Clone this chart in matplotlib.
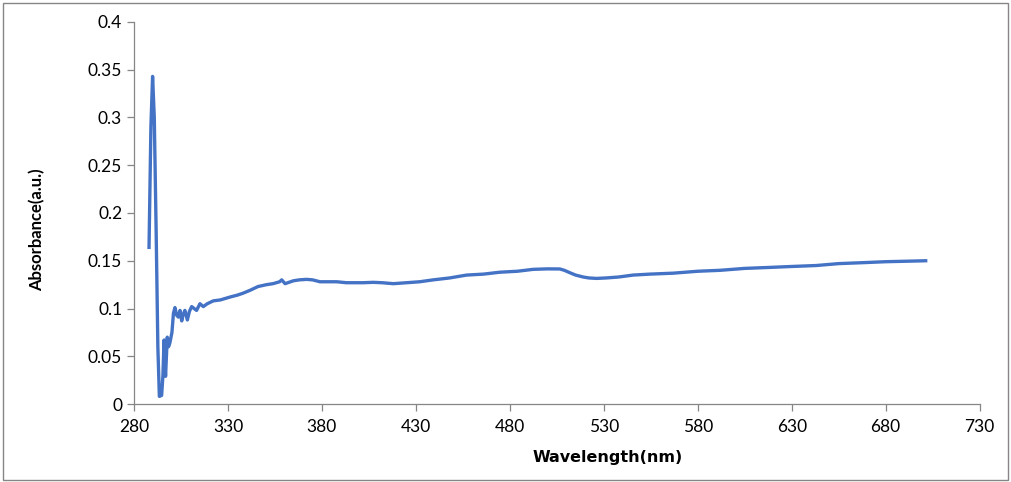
import matplotlib
matplotlib.use("Agg")
import matplotlib.pyplot as plt
from matplotlib.patches import Rectangle

# absorbance spectrum
wavelength = [288.0, 289.0, 289.9, 290.8, 291.8, 292.7, 293.5, 294.7, 295.4, 296.0, 296.8,
              297.7, 298.4, 299.1, 300.2, 301.0, 301.8, 302.7, 303.6, 304.5, 305.4, 306.2,
              307.1, 308.4, 309.5, 310.7, 312.0, 313.3, 315.1, 316.9, 319.0, 322.2, 326.0,
              331.1, 335.0, 338.0, 341.7, 346.0, 350.6, 354.0, 357.5, 358.6, 360.4, 364.8,
              368.0, 371.9, 375.0, 379.0, 383.0, 387.9, 393.0, 398.5, 402.0, 407.3, 412.0,
              418.0, 425.1, 432.0, 439.3, 448.0, 457.0, 466.0, 474.7, 484.0, 492.4, 500.0,
              506.6, 509.0, 511.9, 515.0, 519.0, 522.0, 526.1, 531.4, 538.0, 545.6, 554.5,
              567.0, 580.0, 592.0, 605.0, 618.0, 630.0, 643.0, 655.0, 668.0, 680.0, 691.0,
              701.3]
absorbance = [0.164, 0.290, 0.343, 0.300, 0.180, 0.060, 0.008, 0.009, 0.030, 0.067, 0.029,
              0.070, 0.060, 0.064, 0.075, 0.095, 0.101, 0.093, 0.091, 0.098, 0.087, 0.094,
              0.098, 0.088, 0.097, 0.102, 0.100, 0.098, 0.105, 0.102, 0.105, 0.108, 0.109,
              0.112, 0.114, 0.116, 0.119, 0.123, 0.125, 0.126, 0.128, 0.130, 0.126, 0.129,
              0.130, 0.1305, 0.130, 0.128, 0.128, 0.128, 0.127, 0.127, 0.127, 0.1274, 0.127,
              0.126, 0.127, 0.128, 0.130, 0.132, 0.135, 0.136, 0.138, 0.139, 0.141, 0.1415,
              0.1414, 0.140, 0.1375, 0.135, 0.133, 0.132, 0.1315, 0.132, 0.133, 0.135, 0.136,
              0.137, 0.139, 0.140, 0.142, 0.143, 0.144, 0.145, 0.147, 0.148, 0.149, 0.1495,
              0.150]

x_ticks = [280, 330, 380, 430, 480, 530, 580, 630, 680, 730]
y_ticks = [0, 0.05, 0.1, 0.15, 0.2, 0.25, 0.3, 0.35, 0.4]
y_tick_labels = ["0", "0.05", "0.1", "0.15", "0.2", "0.25", "0.3", "0.35", "0.4"]

plt.rcParams["font.family"] = ["Lato", "DejaVu Sans"]
grey = "#868686"

fig = plt.figure(figsize=(10.12, 4.82), dpi=100)
ax = fig.add_axes([0.1324, 0.1618, 0.8356, 0.7926])

ax.plot(wavelength, absorbance, color="#4472C4", linewidth=2.4, solid_joinstyle="round")

ax.set_xlim(280, 730)
ax.set_ylim(0, 0.4)
ax.set_xticks(x_ticks)
ax.set_yticks(y_ticks)
ax.set_yticklabels(y_tick_labels)

for side in ["top", "right"]:
    ax.spines[side].set_visible(False)
for side in ["left", "bottom"]:
    ax.spines[side].set_color(grey)
    ax.spines[side].set_linewidth(0.9)
ax.tick_params(axis="both", colors=grey, labelcolor="black", labelsize=12.5,
               length=5, width=0.9, direction="out")
ax.tick_params(axis="x", pad=6)

ax.set_xlabel("Wavelength(nm)", fontsize=11.5, fontweight="bold", family="DejaVu Sans")
ax.set_ylabel("Absorbance(a.u.)", fontsize=12, fontweight="bold")
ax.xaxis.set_label_coords(0.56, -0.12)
ax.yaxis.set_label_coords(-0.105, 0.455)

# outer chart frame
fig.patches.append(Rectangle((0.003, 0.004), 0.993, 0.99, transform=fig.transFigure,
                             fill=False, edgecolor=grey, linewidth=1.0))

fig.savefig("out.png", dpi=100)
